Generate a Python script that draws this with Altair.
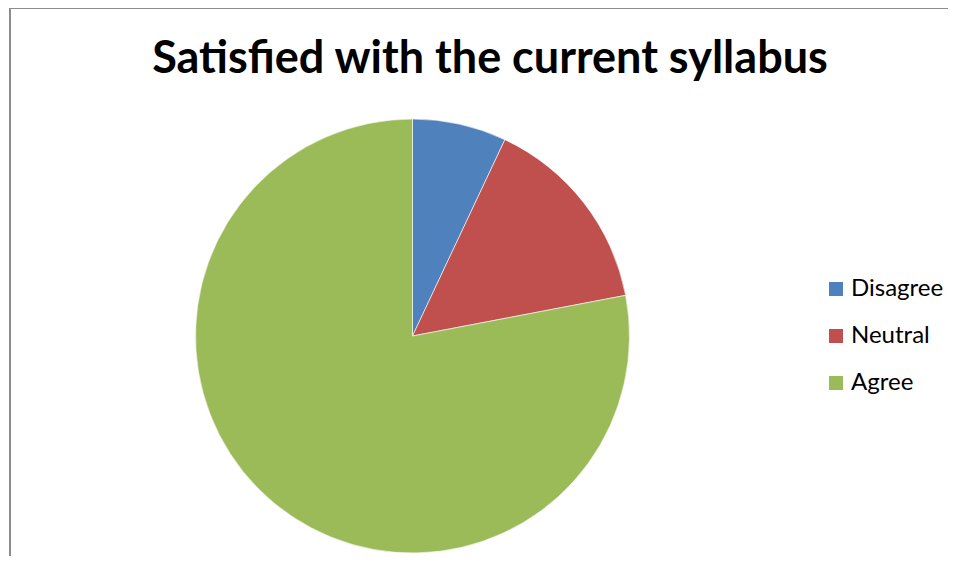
import altair as alt
import pandas as pd

categories = ["Disagree", "Neutral", "Agree"]
values = [7, 15, 78]
colors = ["#4F81BD", "#C0504D", "#9BBB59"]
title_text = "Satisfied with the current syllabus"

df = pd.DataFrame({"category": categories, "value": values, "order": [0, 1, 2]})

pie = alt.Chart(df).mark_arc(radius=217, stroke="white", strokeWidth=0.6).encode(
    theta=alt.Theta("value:Q", stack=True),
    color=alt.Color(
        "category:N",
        sort=categories,
        scale=alt.Scale(domain=categories, range=colors),
        legend=alt.Legend(
            title=None,
            orient="none",
            legendX=814,
            legendY=269,
            symbolType="square",
            symbolSize=196,
            symbolStrokeWidth=0,
            labelFontSize=24,
            labelFont="Lato",
            labelColor="black",
            labelOffset=3,
            rowPadding=23,
        ),
    ),
    order=alt.Order("order:Q"),
    x=alt.value(402.5),
    y=alt.value(328),
)

title = alt.Chart(alt.Data(values=[{"t": title_text}])).mark_text(
    font="Lato", fontSize=45, fontWeight="bold", color="black",
    align="center", baseline="alphabetic"
).encode(text="t:N", x=alt.value(480), y=alt.value(65))

border_data = alt.Data(values=[{"a": 1}])
left_rule = alt.Chart(border_data).mark_rule(color="#8c8c8c", strokeWidth=2).encode(
    x=alt.value(0), y=alt.value(0), y2=alt.value(548)
)
top_rule = alt.Chart(border_data).mark_rule(color="#8c8c8c", strokeWidth=2).encode(
    x=alt.value(0), x2=alt.value(940), y=alt.value(0)
)

chart = alt.layer(pie, title, left_rule, top_rule).properties(
    width=924, height=548,
    background="white",
    autosize=alt.AutoSizeParams(type="none"),
    padding={"left": 2, "top": 0, "right": 14, "bottom": 0},
).configure_view(strokeWidth=0, stroke="transparent")

chart.save("out.html", embed_options={"renderer": "svg", "actions": False})
